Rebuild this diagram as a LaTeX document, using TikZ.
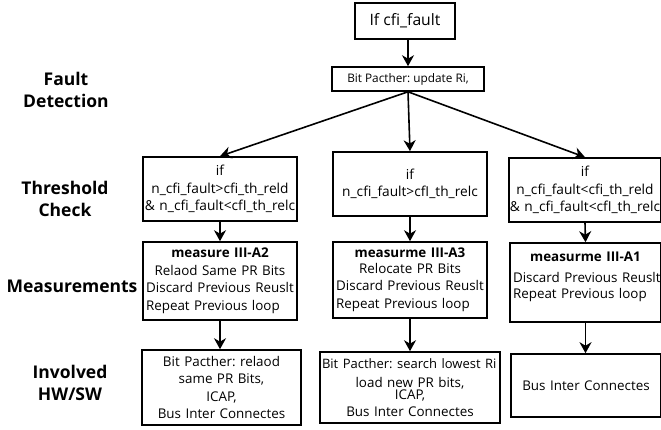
\documentclass[tikz,border=0pt]{standalone}
\usepackage{fontspec}
\setmainfont{Open Sans}
\usetikzlibrary{arrows.meta}

\tikzset{
  box/.style={draw, line width=1.6pt, align=center, inner xsep=3pt, inner ysep=2pt,
    font=\fontsize{13.4}{17.5}\selectfont},
  thbox/.style={box, font=\fontsize{13.7}{17.5}\selectfont},
  flow/.style={line width=1.6pt, -{Stealth[length=11pt,width=12pt,inset=3.5pt]}},
  rowlabel/.style={align=center, font=\bfseries\fontsize{17.5}{21.5}\selectfont},
}
\newcommand{\flushln}[1]{\makebox[\linewidth][l]{#1}}
\newcommand{\midln}[1]{\makebox[\linewidth][c]{#1}}

\begin{document}
\frenchspacing
\begin{tikzpicture}[x=1pt,y=-1pt]
        \useasboundingbox (0,0) rectangle (661,430);

        % row labels
        \node[rowlabel] (lbfault) at (66,90) {Fault\\Detection};
        \node[rowlabel] (lbthres) at (65,199) {Threshold\\Check};
        \node[rowlabel] (lbmeas) at (72,286) {Measurements};
        \node[rowlabel] (lbhw) at (70,383) {Involved\\HW/SW};

        % start and bit patcher
        \node[box, minimum width=100pt, minimum height=36pt, font=\fontsize{15.7}{20}\selectfont] (start) at (405,21) {If cfi\_fault};
        \node[box, minimum width=152pt, minimum height=24pt, font=\fontsize{11.8}{14}\selectfont] (bitp) at (408,79) {Bit Pacther: update Ri,};

        % threshold checks
        \node[thbox, text width=148pt, minimum height=64pt] (thL) at (220,189)
          {if\\\midln{n\_cfi\_fault>cfi\_th\_reld}\\\midln{\& n\_cfi\_fault<cfI\_th\_relc}};
        \node[thbox, text width=148pt, minimum height=64pt] (thC) at (410,184)
          {if\\\midln{n\_cfi\_fault>cfI\_th\_relc}};
        \node[thbox, text width=146pt, minimum height=64pt] (thR) at (585,190)
          {if\\\midln{n\_cfi\_fault<cfi\_th\_reld}\\\midln{\& n\_cfi\_fault<cfI\_th\_relc}};

        % measurements
        \node[box, text width=148pt, minimum height=78pt] (msL) at (220,281)
          {\textbf{measure III-A2}\\Relaod Same PR Bits\\\midln{Discard Previous Reuslt}\\\flushln{Repeat Previous loop}};
        \node[box, text width=148pt, minimum height=76pt] (msC) at (410,280)
          {\textbf{measurme III-A3}\\[-2pt]Relocate PR Bits\\\midln{Discard Previous Reuslt}\\\flushln{Repeat Previous loop}};
        \node[box, text width=145pt, minimum height=79pt] (msR) at (585.5,282.5)
          {\textbf{measurme III-A1}\\[4pt]\flushln{Discard Previous Reuslt}\\[-2pt]\flushln{Repeat Previous loop}\\[-2pt]\mbox{}};

        % involved hw/sw
        \node[box, text width=153pt, minimum height=75pt] (hwL) at (221.5,387.5)
          {Bit Pacther: relaod\\same PR Bits,\\ICAP,\\Bus Inter Connectes};
        \node[box, text width=176pt, inner xsep=2pt, minimum height=71pt] (hwC) at (410,387.5)
          {\flushln{\fontsize{13}{17.5}\selectfont Bit Pacther: search lowest Ri}\\[1pt]load new PR bits,\\[-5pt]ICAP,\\[-1pt]Bus Inter Connectes};
        \node[box, text width=144pt, minimum height=63pt] (hwR) at (586,385.5) {Bus Inter Connectes};

        % arrows
        \draw[flow] (start.south -| bitp) -- (bitp.north);
        \draw[flow] (bitp.south) -- (thL.north);
        \draw[flow] (bitp.south) -- (thC.north);
        \draw[flow] (bitp.south) -- (thR.north);
        \draw[flow] (thL.south) -- (msL.north);
        \draw[flow] (thC.south) -- (msC.north);
        \draw[flow] (thR.south) -- (msR.north);
        \draw[flow] (msL.south) -- (msL.south |- hwL.north);
        \draw[flow] (msC.south) -- (hwC.north);
        \draw[flow] (msR.south) -- (msR.south |- hwR.north);
    \end{tikzpicture}
\end{document}
